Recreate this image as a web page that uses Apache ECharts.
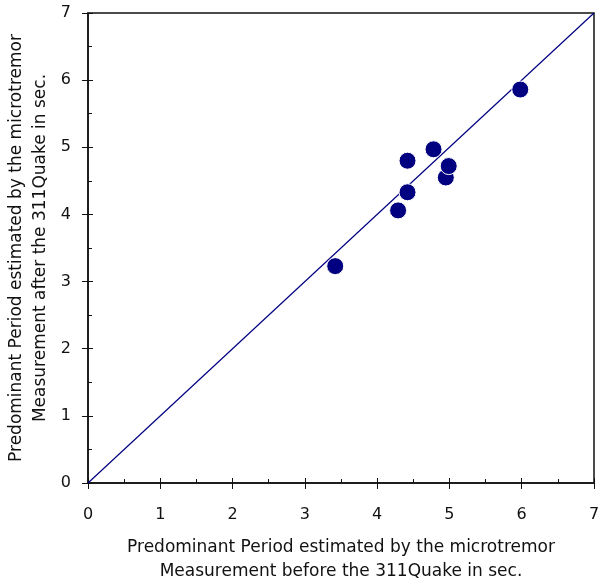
<!DOCTYPE html>
<html>
<head>
<meta charset="utf-8">
<script src="https://cdn.jsdelivr.net/npm/echarts@6/dist/echarts.min.js"></script>
<style>
html, body { margin: 0; padding: 0; background: #fff; }
#chart { width: 598px; height: 583px; }
</style>
</head>
<body>
<div id="chart"></div>
<script>
// periods before the quake (x) and after it (y), in sec.
var beforeQuake = [3.42, 4.29, 4.42, 4.42, 4.78, 4.95, 4.99, 5.98];
var afterQuake = [3.23, 4.06, 4.33, 4.80, 4.97, 4.55, 4.72, 5.86];
var lineEnds = [0, 7];
var tickLabels = ['0', '1', '2', '3', '4', '5', '6', '7'];

var font = '"DejaVu Sans", sans-serif';
var points = beforeQuake.map(function (v, i) { return [v, afterQuake[i]]; });
var diag = lineEnds.map(function (v) { return [v, v]; });

var myChart = echarts.init(document.getElementById('chart'));

function mainAxis(name, gap) {
    return {
        type: 'value',
        min: 0, max: 7, interval: 1,
        name: name,
        nameLocation: 'middle',
        nameGap: gap,
        nameMoveOverlap: false,
        nameTextStyle: { fontFamily: font, fontSize: 17, color: '#111', lineHeight: 24 },
        axisLine: { show: true, onZero: false, lineStyle: { color: '#111', width: 1.5 } },
        axisTick: { show: true, inside: true, length: 5, lineStyle: { color: '#111' } },
        minorTick: { show: true, splitNumber: 2, length: 4, lineStyle: { color: '#111' } },
        axisLabel: {
            fontFamily: font, fontSize: 16, color: '#111', margin: 24,
            formatter: function (v) { return tickLabels[v]; }
        },
        splitLine: { show: false }
    };
}

function tickAxis() {
    return {
        type: 'value',
        min: 0, max: 7, interval: 1,
        axisLine: { show: false, onZero: false },
        axisTick: { show: true, inside: false, length: 6, lineStyle: { color: '#111' } },
        axisLabel: { show: false },
        splitLine: { show: false }
    };
}

var xMain = mainAxis('Predominant Period estimated by the microtremor\nMeasurement before the 311Quake in sec.', 53);
xMain.position = 'bottom';
var xTicks = tickAxis();
xTicks.position = 'bottom';
var yMain = mainAxis('Predominant Period estimated by the microtremor\nMeasurement after the 311Quake in sec.', 35);
yMain.position = 'left';
yMain.axisLabel.margin = 17;
var yTicks = tickAxis();
yTicks.position = 'left';

var option = {
    animation: false,
    grid: {
        left: 88, right: 4, top: 13, bottom: 100,
        containLabel: false, outerBoundsMode: 'none',
        show: true, borderColor: '#111', borderWidth: 1.5, backgroundColor: 'transparent'
    },
    xAxis: [xMain, xTicks],
    yAxis: [yMain, yTicks],
    series: [{
        type: 'line',
        data: diag,
        symbol: 'none',
        lineStyle: { color: '#000080', width: 1.2 },
        z: 2
    }, {
        type: 'scatter',
        data: points,
        symbolSize: 17,
        itemStyle: { color: '#000080', opacity: 1, borderColor: '#fff', borderWidth: 1 },
        z: 3
    }]
};
myChart.setOption(option);
</script>
</body>
</html>
